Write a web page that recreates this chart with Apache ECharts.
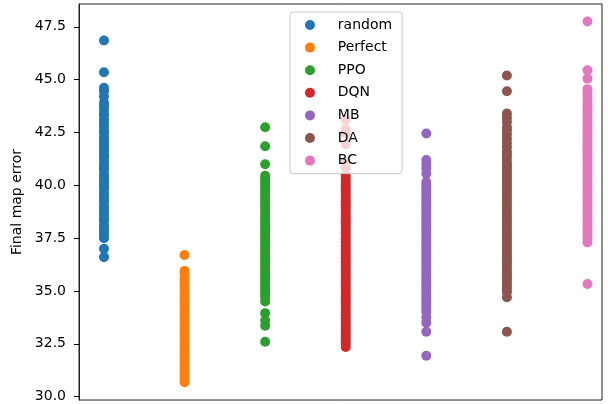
<!DOCTYPE html>
<html>
<head>
<meta charset="utf-8">
<script src="https://cdn.jsdelivr.net/npm/echarts@6/dist/echarts.min.js"></script>
<style>html,body{margin:0;padding:0;background:#fff}#c{width:613px;height:404px}</style>
</head>
<body>
<div id="c"></div>
<script>
const categories = ["random", "Perfect", "PPO", "DQN", "MB", "DA", "BC"];
const colors = ["#1f77b4", "#ff7f0e", "#2ca02c", "#d62728", "#9467bd", "#8c564b", "#e377c2"];
const yTicks = [30.0, 32.5, 35.0, 37.5, 40.0, 42.5, 45.0, 47.5];

const randomVals = [46.85, 45.35, 44.62, 44.45, 44.2, 43.9, 43.75, 43.6, 43.4, 43.3, 43.1, 42.95, 42.8, 42.6, 42.5, 42.3, 42.15, 42.0, 41.85, 41.7, 41.55, 41.4, 41.3, 41.1, 40.95, 40.8, 40.7, 40.5, 40.35, 40.2, 40.05, 39.9, 39.8, 39.6, 39.45, 39.3, 39.2, 39.0, 38.85, 38.7, 38.55, 38.4, 38.3, 38.1, 37.95, 37.8, 37.65, 37.5, 37.0, 36.6];
const perfectVals = [36.7, 35.95, 35.8, 35.6, 35.45, 35.3, 35.15, 35.0, 34.85, 34.7, 34.55, 34.4, 34.25, 34.1, 33.95, 33.8, 33.65, 33.5, 33.35, 33.2, 33.05, 32.9, 32.75, 32.6, 32.45, 32.3, 32.15, 32.0, 31.85, 31.7, 31.55, 31.4, 31.25, 31.1, 30.95, 30.8, 30.68];
const ppoVals = [42.75, 41.85, 41.0, 40.45, 40.3, 40.15, 40.0, 39.85, 39.7, 39.55, 39.4, 39.25, 39.1, 38.95, 38.8, 38.6, 38.45, 38.3, 38.15, 38.0, 37.85, 37.7, 37.55, 37.4, 37.25, 37.1, 36.95, 36.8, 36.65, 36.5, 36.35, 36.2, 36.05, 35.9, 35.75, 35.6, 35.45, 35.3, 35.15, 35.0, 34.85, 34.7, 34.5, 33.95, 33.6, 33.35, 32.6];
const dqnVals = [43.1, 42.65, 42.45, 41.95, 41.1, 40.85, 40.45, 40.3, 40.15, 40.0, 39.85, 39.7, 39.55, 39.4, 39.25, 39.1, 38.95, 38.8, 38.65, 38.5, 38.35, 38.2, 38.05, 37.9, 37.75, 37.6, 37.45, 37.3, 37.15, 37.0, 36.85, 36.7, 36.55, 36.4, 36.25, 36.1, 35.95, 35.8, 35.65, 35.5, 35.35, 35.2, 35.05, 34.9, 34.75, 34.6, 34.45, 34.3, 34.15, 34.0, 33.85, 33.7, 33.55, 33.4, 33.25, 33.1, 32.95, 32.8, 32.65, 32.5, 32.35];
const mbVals = [42.45, 41.2, 41.0, 40.8, 40.55, 40.15, 40.0, 39.85, 39.7, 39.55, 39.4, 39.25, 39.1, 38.95, 38.8, 38.65, 38.5, 38.35, 38.2, 38.05, 37.9, 37.75, 37.6, 37.45, 37.3, 37.15, 37.0, 36.85, 36.7, 36.55, 36.4, 36.25, 36.1, 35.95, 35.8, 35.65, 35.5, 35.35, 35.2, 35.05, 34.9, 34.75, 34.6, 34.45, 34.3, 34.15, 34.0, 33.75, 33.5, 33.07, 31.93];
const daVals = [45.2, 44.45, 43.4, 43.2, 43.0, 42.75, 42.6, 42.4, 42.2, 42.0, 41.8, 41.6, 41.45, 41.3, 41.1, 40.95, 40.8, 40.65, 40.5, 40.35, 40.2, 40.05, 39.9, 39.75, 39.6, 39.45, 39.3, 39.15, 39.0, 38.85, 38.7, 38.55, 38.4, 38.25, 38.1, 37.95, 37.8, 37.65, 37.5, 37.35, 37.2, 37.05, 36.9, 36.75, 36.6, 36.45, 36.3, 36.15, 36.0, 35.85, 35.7, 35.55, 35.4, 35.25, 35.1, 34.95, 34.7, 33.07];
const bcVals = [47.75, 45.45, 45.05, 44.55, 44.35, 44.15, 43.95, 43.8, 43.65, 43.5, 43.35, 43.2, 43.05, 42.9, 42.75, 42.6, 42.45, 42.3, 42.15, 42.0, 41.85, 41.7, 41.55, 41.4, 41.25, 41.1, 40.95, 40.8, 40.65, 40.5, 40.35, 40.2, 40.05, 39.9, 39.75, 39.6, 39.45, 39.3, 39.15, 39.0, 38.85, 38.7, 38.55, 38.4, 38.25, 38.1, 37.95, 37.8, 37.65, 37.5, 37.3, 35.33];

const allVals = [randomVals, perfectVals, ppoVals, dqnVals, mbVals, daVals, bcVals];

const series = categories.map((name, i) => ({
  name: name,
  type: 'scatter',
  symbolSize: 10,
  itemStyle: { color: colors[i], opacity: 1 },
  data: allVals[i].map(v => [i, v]),
  z: 2
}));

const chart = echarts.init(document.getElementById('c'));
chart.setOption({
  animation: false,
  backgroundColor: '#fff',
  grid: { left: 79, right: 11, top: 4, bottom: 4, show: true, borderColor: '#222', borderWidth: 1, backgroundColor: 'transparent' },
  xAxis: {
    type: 'value', min: -0.31, max: 6.18,
    axisLine: { show: false, onZero: false }, axisTick: { show: false }, axisLabel: { show: false }, splitLine: { show: false }
  },
  yAxis: {
    type: 'value', min: 29.84, max: 48.58,
    name: 'Final map error', nameLocation: 'middle', nameGap: 44,
    nameTextStyle: { fontFamily: 'DejaVu Sans', fontSize: 14, color: '#000' },
    axisLine: { show: true, onZero: false, lineStyle: { color: '#222' } },
    axisTick: { show: true, length: 5, lineStyle: { color: '#000', width: 1 }, customValues: yTicks },
    axisLabel: { margin: 13, fontFamily: 'DejaVu Sans', fontSize: 14, color: '#000', customValues: yTicks, formatter: v => v.toFixed(1) },
    splitLine: { show: false }
  },
  legend: {
    orient: 'vertical', left: 290, top: 12,
    padding: [6, 10, 6, 15],
    itemWidth: 10, itemHeight: 10, itemGap: 8.6, icon: 'circle',
    backgroundColor: 'rgba(255,255,255,0.8)', borderColor: '#ccc', borderWidth: 1, borderRadius: 3,
    textStyle: { fontFamily: 'DejaVu Sans', fontSize: 14, color: '#000' },
    formatter: name => '    ' + name,
    data: categories
  },
  series: series
});
</script>
</body>
</html>
